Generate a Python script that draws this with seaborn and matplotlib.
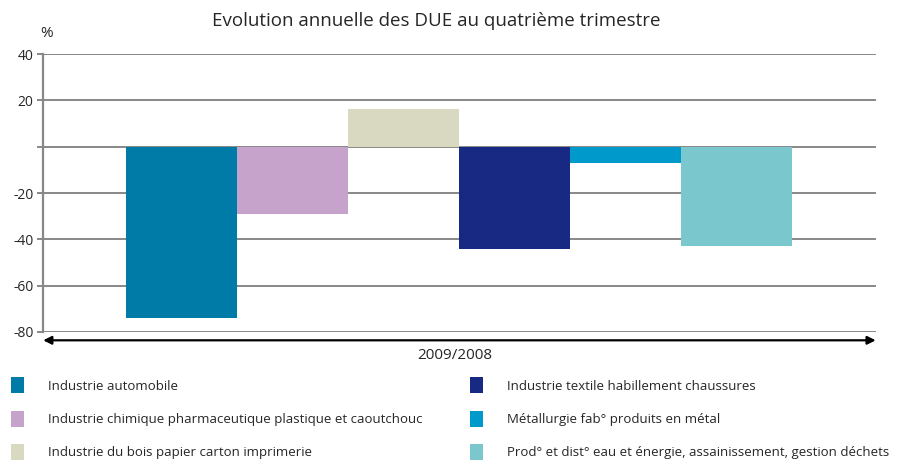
# Evolution annuelle des DUE - bar chart rebuild
import pandas as pd
import matplotlib.pyplot as plt
import seaborn as sns

# -------------------------------
# Data
# -------------------------------
periode = "2009/2008"
secteurs = [
    "Industrie automobile",
    "Industrie chimique pharmaceutique plastique et caoutchouc",
    "Industrie du bois papier carton imprimerie",
    "Industrie textile habillement chaussures",
    "Métallurgie fab° produits en métal",
    "Prod° et dist° eau et énergie, assainissement, gestion déchets",
]
evolution = [-74, -29, 16.5, -44, -7, -43]
couleurs = ["#007BA7", "#C5A3CB", "#D8D9C0", "#182983", "#0099CC", "#7AC7CE"]
y_ticks = [-80, -60, -40, -20, 0, 20, 40]
y_labels = ["-80", "-60", "-40", "-20", "", "20", "40"]

df = pd.DataFrame({"periode": periode, "secteur": secteurs, "evolution": evolution})

sns.set_style("white")
plt.rcParams["font.family"] = ["Open Sans", "DejaVu Sans"]

fig = plt.figure(figsize=(9, 4.63), dpi=100)
ax = fig.add_axes([0.048, 0.283, 0.925, 0.6])

sns.barplot(
    data=df, x="periode", y="evolution", hue="secteur",
    hue_order=secteurs, palette=couleurs, width=0.8,
    saturation=1, ax=ax, legend=True, linewidth=0, edgecolor="none"
)

ax.set_ylim(-80, 40)
ax.set_xlim(-0.5, 0.5)
ax.set_yticks(y_ticks)
ax.set_yticklabels(y_labels, fontsize=10)
ax.set_xticks([])
ax.set_xlabel("")
ax.set_ylabel("")
ax.yaxis.grid(True, color="#888888", linewidth=1.4)
ax.set_axisbelow(True)
ax.tick_params(axis="y", length=4, width=1.4, color="#888888", left=True, pad=3)

for side in ["top", "right"]:
    ax.spines[side].set_visible(False)
ax.spines["left"].set_color("#888888")
ax.spines["left"].set_linewidth(1.6)
ax.spines["bottom"].set_visible(False)

# double arrow under the plot
ax.annotate(
    "", xy=(0.0, -0.03), xytext=(1.0, -0.03), xycoords="axes fraction",
    arrowprops=dict(arrowstyle="<|-|>", color="black", lw=1.6,
                    mutation_scale=12, shrinkA=0, shrinkB=0),
    annotation_clip=False
)
fig.text(0.505, 0.232, periode, ha="center", va="center", fontsize=11)

fig.text(0.485, 0.955, "Evolution annuelle des DUE au quatrième trimestre",
         ha="center", va="center", fontsize=13.5)
fig.text(0.045, 0.928, "%", ha="left", va="center", fontsize=11)

# legend in two blocks of three
handles, labels = ax.get_legend_handles_labels()
ax.get_legend().remove()
for i, xpos in enumerate([0.0, 0.51]):
    fig.legend(
        handles[i * 3:(i + 1) * 3], labels[i * 3:(i + 1) * 3],
        loc="upper left", bbox_to_anchor=(xpos, 0.208),
        frameon=False, fontsize=9.5, handlelength=1.05, handleheight=1.5,
        handletextpad=1.8, labelspacing=1.3, borderpad=0.3
    )

plt.savefig("out.png", dpi=100)
